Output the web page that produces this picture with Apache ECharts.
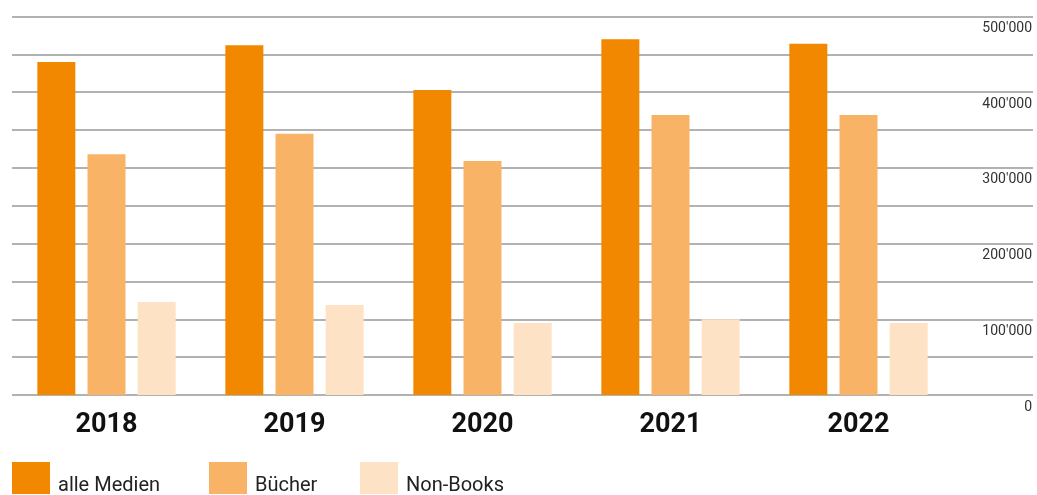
<!DOCTYPE html>
<html>
<head>
<meta charset="utf-8">
<script src="https://cdn.jsdelivr.net/npm/echarts@6/dist/echarts.min.js"></script>
<style>html,body{margin:0;padding:0;background:#fff;}#c{width:1037px;height:495px;}</style>
</head>
<body>
<div id="c"></div>
<script>
const years = ['2018', '2019', '2020', '2021', '2022'];
const alleMedien = [440000, 462000, 403000, 470000, 464000];
const buecher = [318000, 345000, 309000, 370000, 370000];
const nonBooks = [123000, 119000, 95000, 100000, 95000];
const seriesNames = ['alle Medien', 'Bücher', 'Non-Books'];
const colors = ['#F18800', '#F9B367', '#FDE2C5'];

const fmt = v => (v % 100000 === 0) ? String(v).replace(/\B(?=(\d{3})+(?!\d))/g, "'") : '';

const chart = echarts.init(document.getElementById('c'));
const legendBase = {
  top: 462, padding: 0, itemWidth: 38, itemHeight: 32, itemGap: 8, icon: 'rect', selectedMode: false,
  formatter: '{t|{name}}',
  textStyle: { fontFamily: 'Roboto', fontSize: 20, color: '#222',
    rich: { t: { fontFamily: 'Roboto', fontSize: 20, color: '#222', padding: [16, 0, 0, 3] } } }
};
chart.setOption({
  animation: false,
  color: colors,
  legend: [
    Object.assign({ left: 12, data: [seriesNames[0]] }, legendBase),
    Object.assign({ left: 209, data: [seriesNames[1]] }, legendBase),
    Object.assign({ left: 360, data: [seriesNames[2]] }, legendBase)
  ],
  grid: [
    { left: 12, right: 4, top: 16.5, bottom: 100 },
    { left: 12.5, width: 940, top: 16.5, bottom: 100 }
  ],
  xAxis: [
    { type: 'value', gridIndex: 0, show: false, min: 0, max: 1 },
    { type: 'category', gridIndex: 1, data: years,
      axisLine: { show: false }, axisTick: { show: false },
      axisLabel: { margin: 17, fontFamily: 'Roboto', fontWeight: 'bold', fontSize: 27, color: '#111' } }
  ],
  yAxis: [
    { type: 'value', gridIndex: 0, position: 'right', min: 0, max: 500000, interval: 50000,
      axisLine: { show: false }, axisTick: { show: false },
      splitLine: { show: true, lineStyle: { color: '#999', width: 1.5 } },
      axisLabel: { inside: true, margin: 1, formatter: fmt, verticalAlign: 'top', padding: [5, 0, 0, 0],
        fontFamily: 'Roboto', fontSize: 14, color: '#333' } },
    { type: 'value', gridIndex: 1, min: 0, max: 500000, interval: 50000, show: false, splitLine: { show: false } }
  ],
  series: [
    { name: seriesNames[0], type: 'bar', xAxisIndex: 1, yAxisIndex: 1, data: alleMedien, barWidth: 38, barGap: '32%' },
    { name: seriesNames[1], type: 'bar', xAxisIndex: 1, yAxisIndex: 1, data: buecher, barWidth: 38, barGap: '32%' },
    { name: seriesNames[2], type: 'bar', xAxisIndex: 1, yAxisIndex: 1, data: nonBooks, barWidth: 38, barGap: '32%' }
  ]
});
</script>
</body>
</html>
